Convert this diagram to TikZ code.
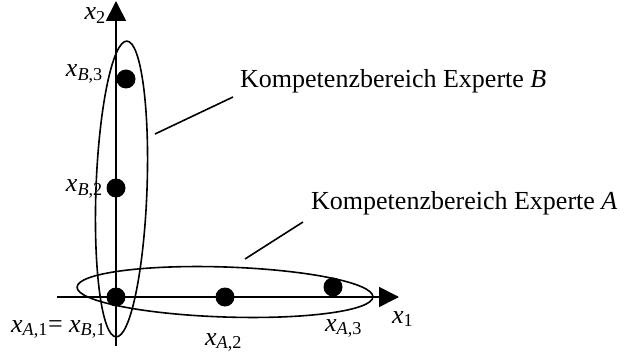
\documentclass[tikz,border=0pt]{standalone}
\usepackage{fontspec}
\setmainfont{Liberation Serif}
\usetikzlibrary{arrows.meta}
\newcommand{\xvar}[2]{\textit{x}\textsubscript{#1#2}}
\begin{document}
\begin{tikzpicture}[x=1pt,y=-1pt,
  axis/.style={line width=1.6pt,-{Triangle[length=20pt,width=20pt]}},
  region/.style={line width=1.6pt},
  dot/.style={circle,fill=black,inner sep=0pt,minimum size=19pt},
  lbl/.style={inner sep=0pt,font=\fontsize{26}{30}\selectfont},
  lead/.style={line width=1.6pt}]
\useasboundingbox (0,0) rectangle (625,353);
% axes
\coordinate (o1) at (57,297);
\coordinate (e1) at (399,297);
\coordinate (o2) at (116,346);
\coordinate (e2) at (116,1);
\draw[axis] (o1) -- (e1);
\draw[axis] (o2) -- (e2);
% ellipses
\draw[region,rotate around={-2.1:(121.5,189)}] (121.5,189) ellipse [x radius=25.5pt, y radius=148pt];
\draw[region,rotate around={-1.9:(225,292)}] (225,292) ellipse [x radius=148pt, y radius=25pt];
% dots
\node[dot] (b3) at (126,79) {};
\node[dot] (b2) at (116,188) {};
\node[dot] (a1) at (116,297) {};
\node[dot] (a2) at (225,297) {};
\node[dot] (a3) at (333,287) {};
% labels
\node[lbl,anchor=base east,text height=13pt] (lx2) at (106,20) {\xvar{}{2}};
\node[lbl,anchor=base west] (lx1) at (392,323) {\xvar{}{1}};
\node[lbl,anchor=base east] (lb3) at (103,77) {\xvar{\textit{B},}{3}};
\node[lbl,anchor=base east] (lb2) at (103,192) {\xvar{\textit{B},}{2}};
\node[lbl,anchor=base west] (la1) at (11,332) {\xvar{\textit{A},}{1}= \xvar{\textit{B},}{1}};
\node[lbl,anchor=base west] (la2) at (205,345) {\xvar{\textit{A},}{2}};
\node[lbl,anchor=base west] (la3) at (325,331) {\xvar{\textit{A},}{3}};
\node[lbl,anchor=base west] (kb) at (240,88) {Kompetenzbereich Experte \textit{B}};
\node[lbl,anchor=base west] (ka) at (311,210) {Kompetenzbereich Experte \textit{A}};
% leader lines
\coordinate (lbs) at (155,134);
\coordinate (lbe) at (233,97);
\coordinate (las) at (245,259);
\coordinate (lae) at (303,222);
\draw[lead] (lbs) -- (lbe);
\draw[lead] (las) -- (lae);
\end{tikzpicture}
\end{document}
